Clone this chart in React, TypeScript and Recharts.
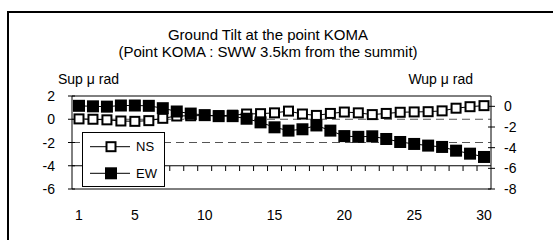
import { LineChart, Line, XAxis, YAxis, ReferenceLine, Legend } from 'recharts'

// days of the month on the category axis
const days = [1, 2, 3, 4, 5, 6, 7, 8, 9, 10, 11, 12, 13, 14, 15, 16, 17, 18, 19, 20, 21, 22, 23, 24, 25, 26, 27, 28, 29, 30]
// NS component, left axis (Sup μ rad)
const nsTilt = [0.03, 0.0, -0.05, -0.15, -0.18, -0.12, 0.08, 0.28, 0.3, 0.32, 0.3, 0.35, 0.45, 0.48, 0.55, 0.7, 0.45, 0.33, 0.5, 0.62, 0.55, 0.4, 0.5, 0.6, 0.63, 0.65, 0.72, 0.95, 1.08, 1.17]
// EW component, right axis (Wup μ rad)
const ewTilt = [0.05, 0.0, -0.03, 0.08, 0.08, 0.05, -0.18, -0.5, -0.7, -0.85, -0.95, -0.95, -1.2, -1.55, -2.03, -2.35, -2.22, -1.85, -2.35, -2.88, -2.95, -2.9, -3.16, -3.45, -3.64, -3.8, -3.93, -4.29, -4.58, -4.9]

const seriesNames = ['NS', 'EW']
const xLabels = [1, 5, 10, 15, 20, 25, 30]
const leftTicks = [2, 0, -2, -4, -6]
const rightTicks = [0, -2, -4, -6, -8]
const dashedGrid = [0, -2]
const axisCross = -4

const data = days.map((day, i) => ({ day, NS: nsTilt[i], EW: ewTilt[i] }))

const W = 553
const H = 240
const PLOT_LEFT = 72
const PLOT_RIGHT = 491
const STEP = (PLOT_RIGHT - PLOT_LEFT) / days.length
const FONT = '"Liberation Sans", Arial, sans-serif'

function Square({ cx, cy, filled }: { cx?: number; cy?: number; filled: boolean }) {
  if (cx == null || cy == null) return null
  return filled ? (
    <rect x={cx - 6} y={cy - 6} width={12} height={12} fill="#000" />
  ) : (
    <rect x={cx - 4.5} y={cy - 4.5} width={9} height={9} fill="#fff" stroke="#000" strokeWidth={2} />
  )
}

function LeftTick({ x, y, payload }: any) {
  return (
    <g>
      <line x1={x - 4} x2={x + 3} y1={y} y2={y} stroke="#000" />
      <text x={x - 17} y={y} dy="0.36em" textAnchor="end" fontSize={14} fontFamily={FONT} fill="#000">
        {payload.value}
      </text>
    </g>
  )
}

function RightTick({ x, y, payload }: any) {
  return (
    <g>
      <line x1={x - 3} x2={x + 4} y1={y} y2={y} stroke="#000" />
      <text x={x + 13} y={y} dy="0.36em" textAnchor="start" fontSize={14} fontFamily={FONT} fill="#000">
        {payload.value}
      </text>
    </g>
  )
}

// category tick marks sit on the axis line at -4, labels stay at the bottom
function DayTick({ x, y, payload, index }: any) {
  return (
    <g>
      {index > 0 && <line x1={x - STEP / 2} x2={x - STEP / 2} y1={y - 23} y2={y - 18} stroke="#000" />}
      {xLabels.includes(payload.value) && (
        <text x={x} y={y + 31} textAnchor="middle" fontSize={14} fontFamily={FONT} fill="#000">
          {payload.value}
        </text>
      )}
    </g>
  )
}

function LegendBox() {
  return (
    <svg width={83} height={55} style={{ display: 'block' }}>
      <rect x={0.5} y={0.5} width={82} height={54} fill="#fff" stroke="#000" />
      {seriesNames.map((name, i) => {
        const cy = 14.7 + i * 26.6
        return (
          <g key={name}>
            <line x1={8} x2={48} y1={cy} y2={cy} stroke="#000" />
            <Square cx={29} cy={cy} filled={name === 'EW'} />
            <text x={54} y={cy + 4.6} fontSize={13} fontFamily={FONT} fill="#000">
              {name}
            </text>
          </g>
        )
      })}
    </svg>
  )
}

export default function App() {
  return (
    <div style={{ position: 'absolute', left: 0, top: 0, width: W, height: H, overflow: 'hidden', background: '#fff' }}>
      <div
        style={{
          position: 'absolute',
          left: 7,
          top: 11,
          width: 600,
          height: 300,
          border: '2px solid #000',
        }}
      />
      <svg width={W} height={H} style={{ position: 'absolute', left: 0, top: 0 }}>
        <text x={268} y={39.5} textAnchor="middle" fontSize={15} fontFamily={FONT} fill="#000">
          Ground Tilt at the point KOMA
        </text>
        <text x={268} y={56.5} textAnchor="middle" fontSize={15} fontFamily={FONT} fill="#000">
          (Point KOMA : SWW 3.5km from the summit)
        </text>
        <text x={58} y={84} fontSize={14} fontFamily={FONT} fill="#000">
          Sup μ rad
        </text>
        <text x={473} y={84} textAnchor="end" fontSize={14} fontFamily={FONT} fill="#000">
          Wup μ rad
        </text>
      </svg>
      <div style={{ position: 'absolute', left: 0, top: 0 }}>
        <LineChart width={W} height={H} data={data} margin={{ top: 96, right: 32, bottom: 11, left: 42 }}>
          <XAxis
            dataKey="day"
            type="category"
            padding={{ left: 7, right: 7 }}
            interval={0}
            axisLine={{ stroke: '#000' }}
            tickLine={false}
            tickSize={0}
            tickMargin={0}
            height={40}
            tick={(p: any) => <DayTick {...p} />}
          />
          <YAxis
            yAxisId="left"
            domain={[-6, 2]}
            ticks={leftTicks}
            interval={0}
            allowDataOverflow
            width={30}
            axisLine={{ stroke: '#000' }}
            tickLine={false}
            tickSize={0}
            tickMargin={0}
            tick={(p: any) => <LeftTick {...p} />}
          />
          <YAxis
            yAxisId="right"
            orientation="right"
            domain={[-8, 1]}
            ticks={rightTicks}
            interval={0}
            allowDataOverflow
            width={30}
            axisLine={{ stroke: '#000' }}
            tickLine={false}
            tickSize={0}
            tickMargin={0}
            tick={(p: any) => <RightTick {...p} />}
          />
          {dashedGrid.map((v) => (
            <ReferenceLine key={v} yAxisId="left" y={v} stroke="#555" strokeDasharray="8 5" ifOverflow="visible" />
          ))}
          <ReferenceLine yAxisId="left" y={axisCross} stroke="#000" ifOverflow="visible" />
          <ReferenceLine yAxisId="left" y={leftTicks[0]} stroke="#000" ifOverflow="visible" />
          <Legend
            layout="vertical"
            align="center"
            verticalAlign="middle"
            wrapperStyle={{ position: 'absolute', left: 82, top: 132, width: 83, height: 55 }}
            content={() => <LegendBox />}
          />
          <Line
            yAxisId="left"
            dataKey="NS"
            name="NS"
            stroke="#000"
            strokeWidth={1}
            isAnimationActive={false}
            dot={(p: any) => <Square key={`ns-${p.index}`} cx={p.cx} cy={p.cy} filled={false} />}
          />
          <Line
            yAxisId="right"
            dataKey="EW"
            name="EW"
            stroke="#000"
            strokeWidth={1}
            isAnimationActive={false}
            dot={(p: any) => <Square key={`ew-${p.index}`} cx={p.cx} cy={p.cy} filled />}
          />
        </LineChart>
      </div>
    </div>
  )
}
